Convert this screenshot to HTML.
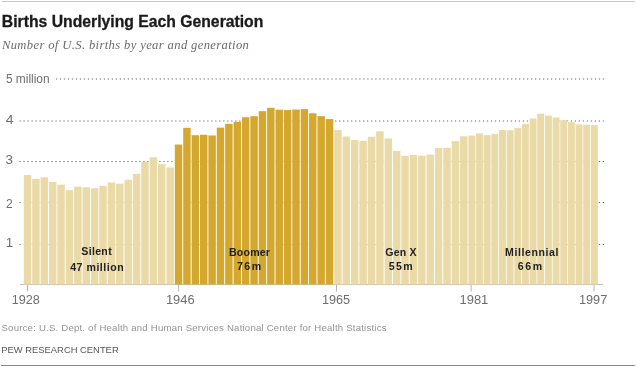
<!DOCTYPE html>
<html><head><meta charset="utf-8">
<style>
html,body{margin:0;padding:0;background:#fff;}
body{width:636px;height:367px;overflow:hidden;position:relative;}
svg{position:absolute;left:0;top:0;will-change:transform;}
text{font-family:"Liberation Sans",sans-serif;}
.title{font-weight:bold;font-size:15.8px;fill:#1a1a1a;stroke:#1a1a1a;stroke-width:0.3px;}
.sub{font-family:"Liberation Serif",serif;font-style:italic;font-size:12.6px;fill:#6a6a6a;}
.ax{font-size:12px;fill:#6e6e6e;}
.lab{font-size:10.6px;font-weight:bold;fill:#222;}
.src{font-size:9.6px;fill:#939393;}
.pew{font-size:9.7px;fill:#555;}
</style></head><body>
<svg width="636" height="367" viewBox="0 0 636 367">
<line x1="2" y1="1.5" x2="635" y2="1.5" stroke="#c8c8c8" stroke-width="1"/>
<defs><mask id="gm" maskUnits="userSpaceOnUse" x="0" y="0" width="636" height="367"><rect x="0" y="0" width="636" height="367" fill="#fff"/>
<rect x="22.80" y="176.04" width="9.39" height="113.96" fill="#555"/>
<rect x="31.19" y="179.84" width="9.39" height="110.16" fill="#555"/>
<rect x="39.58" y="178.35" width="9.39" height="111.65" fill="#555"/>
<rect x="47.97" y="182.98" width="9.39" height="107.02" fill="#555"/>
<rect x="56.36" y="185.71" width="9.39" height="104.29" fill="#555"/>
<rect x="64.75" y="191.21" width="9.39" height="98.79" fill="#555"/>
<rect x="73.14" y="187.53" width="9.39" height="102.47" fill="#555"/>
<rect x="81.53" y="188.32" width="9.39" height="101.68" fill="#555"/>
<rect x="89.92" y="189.23" width="9.39" height="100.77" fill="#555"/>
<rect x="98.31" y="186.83" width="9.39" height="103.17" fill="#555"/>
<rect x="106.70" y="183.40" width="9.39" height="106.60" fill="#555"/>
<rect x="115.09" y="184.64" width="9.39" height="105.36" fill="#555"/>
<rect x="123.48" y="180.79" width="9.39" height="109.21" fill="#555"/>
<rect x="131.87" y="174.84" width="9.39" height="115.16" fill="#555"/>
<rect x="140.26" y="163.01" width="9.39" height="126.99" fill="#555"/>
<rect x="148.65" y="158.25" width="9.39" height="131.75" fill="#555"/>
<rect x="157.04" y="165.08" width="9.39" height="124.92" fill="#555"/>
<rect x="165.43" y="168.43" width="9.39" height="121.57" fill="#555"/>
<rect x="173.82" y="145.56" width="9.39" height="144.44" fill="#555"/>
<rect x="182.21" y="128.77" width="9.39" height="161.23" fill="#555"/>
<rect x="190.60" y="136.21" width="9.39" height="153.79" fill="#555"/>
<rect x="198.99" y="135.72" width="9.39" height="154.28" fill="#555"/>
<rect x="207.38" y="136.42" width="9.39" height="153.58" fill="#555"/>
<rect x="215.77" y="128.64" width="9.39" height="161.36" fill="#555"/>
<rect x="224.16" y="124.96" width="9.39" height="165.04" fill="#555"/>
<rect x="232.55" y="122.90" width="9.39" height="167.10" fill="#555"/>
<rect x="240.94" y="118.26" width="9.39" height="171.74" fill="#555"/>
<rect x="249.33" y="117.19" width="9.39" height="172.81" fill="#555"/>
<rect x="257.72" y="112.18" width="9.39" height="177.82" fill="#555"/>
<rect x="266.11" y="108.79" width="9.39" height="181.21" fill="#555"/>
<rect x="274.50" y="110.65" width="9.39" height="179.35" fill="#555"/>
<rect x="282.89" y="111.07" width="9.39" height="178.93" fill="#555"/>
<rect x="291.28" y="110.53" width="9.39" height="179.47" fill="#555"/>
<rect x="299.67" y="110.12" width="9.39" height="179.88" fill="#555"/>
<rect x="308.06" y="114.29" width="9.39" height="175.71" fill="#555"/>
<rect x="316.45" y="117.15" width="9.39" height="172.85" fill="#555"/>
<rect x="324.84" y="120.08" width="9.39" height="169.92" fill="#555"/>
<rect x="333.23" y="131.13" width="9.39" height="158.87" fill="#555"/>
<rect x="341.62" y="137.49" width="9.39" height="152.51" fill="#555"/>
<rect x="350.01" y="141.01" width="9.39" height="148.99" fill="#555"/>
<rect x="358.40" y="141.79" width="9.39" height="148.21" fill="#555"/>
<rect x="366.79" y="137.74" width="9.39" height="152.26" fill="#555"/>
<rect x="375.18" y="132.32" width="9.39" height="157.68" fill="#555"/>
<rect x="383.57" y="139.56" width="9.39" height="150.44" fill="#555"/>
<rect x="391.96" y="151.89" width="9.39" height="138.11" fill="#555"/>
<rect x="400.35" y="156.89" width="9.39" height="133.11" fill="#555"/>
<rect x="408.74" y="155.94" width="9.39" height="134.06" fill="#555"/>
<rect x="417.13" y="156.60" width="9.39" height="133.40" fill="#555"/>
<rect x="425.52" y="155.61" width="9.39" height="134.39" fill="#555"/>
<rect x="433.91" y="149.03" width="9.39" height="140.97" fill="#555"/>
<rect x="442.30" y="148.78" width="9.39" height="141.22" fill="#555"/>
<rect x="450.69" y="142.13" width="9.39" height="147.87" fill="#555"/>
<rect x="459.08" y="137.25" width="9.39" height="152.75" fill="#555"/>
<rect x="467.40" y="136.54" width="8.66" height="153.46" fill="#555"/>
<rect x="475.06" y="134.39" width="8.66" height="155.61" fill="#555"/>
<rect x="482.71" y="136.13" width="8.66" height="153.87" fill="#555"/>
<rect x="490.37" y="134.89" width="8.66" height="155.11" fill="#555"/>
<rect x="498.02" y="131.08" width="8.66" height="158.92" fill="#555"/>
<rect x="505.68" y="131.25" width="8.66" height="158.75" fill="#555"/>
<rect x="513.34" y="129.10" width="8.66" height="160.90" fill="#555"/>
<rect x="520.99" y="124.92" width="8.66" height="165.08" fill="#555"/>
<rect x="528.65" y="119.50" width="8.66" height="170.50" fill="#555"/>
<rect x="536.30" y="114.67" width="8.66" height="175.33" fill="#555"/>
<rect x="543.96" y="116.61" width="8.66" height="173.39" fill="#555"/>
<rect x="551.62" y="118.51" width="8.66" height="171.49" fill="#555"/>
<rect x="559.27" y="121.20" width="8.66" height="168.80" fill="#555"/>
<rect x="566.93" y="123.14" width="8.66" height="166.86" fill="#555"/>
<rect x="574.58" y="125.34" width="8.66" height="164.66" fill="#555"/>
<rect x="582.24" y="125.71" width="8.66" height="164.29" fill="#555"/>
<rect x="589.90" y="126.12" width="8.66" height="163.88" fill="#555"/></mask></defs>
<g mask="url(#gm)">
<line x1="55.9" y1="79.0" x2="604.2" y2="79.0" stroke="#666" stroke-width="1.2" stroke-dasharray="1.2 2.7927"/>
<line x1="19.5" y1="121.0" x2="604.2" y2="121.0" stroke="#666" stroke-width="1.2" stroke-dasharray="1.2 2.7950"/>
<line x1="19.5" y1="161.5" x2="604.2" y2="161.5" stroke="#666" stroke-width="1.2" stroke-dasharray="1.2 2.7950"/>
<line x1="19.5" y1="202.5" x2="604.2" y2="202.5" stroke="#666" stroke-width="1.2" stroke-dasharray="1.2 2.7950"/>
<line x1="19.5" y1="244.5" x2="604.2" y2="244.5" stroke="#666" stroke-width="1.2" stroke-dasharray="1.2 2.7950"/>
</g>
<line x1="20" y1="284.5" x2="603" y2="284.5" stroke="#c0c0c0" stroke-width="1"/>
<rect x="23.80" y="175.04" width="7.45" height="109.46" fill="#eadaa8"/>
<rect x="32.19" y="178.84" width="7.45" height="105.66" fill="#eadaa8"/>
<rect x="40.58" y="177.35" width="7.45" height="107.15" fill="#eadaa8"/>
<rect x="48.97" y="181.98" width="7.45" height="102.52" fill="#eadaa8"/>
<rect x="57.36" y="184.71" width="7.45" height="99.79" fill="#eadaa8"/>
<rect x="65.75" y="190.21" width="7.45" height="94.29" fill="#eadaa8"/>
<rect x="74.14" y="186.53" width="7.45" height="97.97" fill="#eadaa8"/>
<rect x="82.53" y="187.32" width="7.45" height="97.18" fill="#eadaa8"/>
<rect x="90.92" y="188.23" width="7.45" height="96.27" fill="#eadaa8"/>
<rect x="99.31" y="185.83" width="7.45" height="98.67" fill="#eadaa8"/>
<rect x="107.70" y="182.40" width="7.45" height="102.10" fill="#eadaa8"/>
<rect x="116.09" y="183.64" width="7.45" height="100.86" fill="#eadaa8"/>
<rect x="124.48" y="179.79" width="7.45" height="104.71" fill="#eadaa8"/>
<rect x="132.87" y="173.84" width="7.45" height="110.66" fill="#eadaa8"/>
<rect x="141.26" y="162.01" width="7.45" height="122.49" fill="#eadaa8"/>
<rect x="149.65" y="157.25" width="7.45" height="127.25" fill="#eadaa8"/>
<rect x="158.04" y="164.08" width="7.45" height="120.42" fill="#eadaa8"/>
<rect x="166.43" y="167.43" width="7.45" height="117.07" fill="#eadaa8"/>
<rect x="174.82" y="144.56" width="7.45" height="139.94" fill="#d4a72f"/>
<rect x="183.21" y="127.77" width="7.45" height="156.73" fill="#d4a72f"/>
<rect x="191.60" y="135.21" width="7.45" height="149.29" fill="#d4a72f"/>
<rect x="199.99" y="134.72" width="7.45" height="149.78" fill="#d4a72f"/>
<rect x="208.38" y="135.42" width="7.45" height="149.08" fill="#d4a72f"/>
<rect x="216.77" y="127.64" width="7.45" height="156.86" fill="#d4a72f"/>
<rect x="225.16" y="123.96" width="7.45" height="160.54" fill="#d4a72f"/>
<rect x="233.55" y="121.90" width="7.45" height="162.60" fill="#d4a72f"/>
<rect x="241.94" y="117.26" width="7.45" height="167.24" fill="#d4a72f"/>
<rect x="250.33" y="116.19" width="7.45" height="168.31" fill="#d4a72f"/>
<rect x="258.72" y="111.18" width="7.45" height="173.32" fill="#d4a72f"/>
<rect x="267.11" y="107.79" width="7.45" height="176.71" fill="#d4a72f"/>
<rect x="275.50" y="109.65" width="7.45" height="174.85" fill="#d4a72f"/>
<rect x="283.89" y="110.07" width="7.45" height="174.43" fill="#d4a72f"/>
<rect x="292.28" y="109.53" width="7.45" height="174.97" fill="#d4a72f"/>
<rect x="300.67" y="109.12" width="7.45" height="175.38" fill="#d4a72f"/>
<rect x="309.06" y="113.29" width="7.45" height="171.21" fill="#d4a72f"/>
<rect x="317.45" y="116.15" width="7.45" height="168.35" fill="#d4a72f"/>
<rect x="325.84" y="119.08" width="7.45" height="165.42" fill="#d4a72f"/>
<rect x="334.23" y="130.13" width="7.45" height="154.37" fill="#eadaa8"/>
<rect x="342.62" y="136.49" width="7.45" height="148.01" fill="#eadaa8"/>
<rect x="351.01" y="140.01" width="7.45" height="144.49" fill="#eadaa8"/>
<rect x="359.40" y="140.79" width="7.45" height="143.71" fill="#eadaa8"/>
<rect x="367.79" y="136.74" width="7.45" height="147.76" fill="#eadaa8"/>
<rect x="376.18" y="131.32" width="7.45" height="153.18" fill="#eadaa8"/>
<rect x="384.57" y="138.56" width="7.45" height="145.94" fill="#eadaa8"/>
<rect x="392.96" y="150.89" width="7.45" height="133.61" fill="#eadaa8"/>
<rect x="401.35" y="155.89" width="7.45" height="128.61" fill="#eadaa8"/>
<rect x="409.74" y="154.94" width="7.45" height="129.56" fill="#eadaa8"/>
<rect x="418.13" y="155.60" width="7.45" height="128.90" fill="#eadaa8"/>
<rect x="426.52" y="154.61" width="7.45" height="129.89" fill="#eadaa8"/>
<rect x="434.91" y="148.03" width="7.45" height="136.47" fill="#eadaa8"/>
<rect x="443.30" y="147.78" width="7.45" height="136.72" fill="#eadaa8"/>
<rect x="451.69" y="141.13" width="7.45" height="143.37" fill="#eadaa8"/>
<rect x="460.08" y="136.25" width="7.45" height="148.25" fill="#eadaa8"/>
<rect x="468.40" y="135.54" width="6.90" height="148.96" fill="#eadaa8"/>
<rect x="476.06" y="133.39" width="6.90" height="151.11" fill="#eadaa8"/>
<rect x="483.71" y="135.13" width="6.90" height="149.37" fill="#eadaa8"/>
<rect x="491.37" y="133.89" width="6.90" height="150.61" fill="#eadaa8"/>
<rect x="499.02" y="130.08" width="6.90" height="154.42" fill="#eadaa8"/>
<rect x="506.68" y="130.25" width="6.90" height="154.25" fill="#eadaa8"/>
<rect x="514.34" y="128.10" width="6.90" height="156.40" fill="#eadaa8"/>
<rect x="521.99" y="123.92" width="6.90" height="160.58" fill="#eadaa8"/>
<rect x="529.65" y="118.50" width="6.90" height="166.00" fill="#eadaa8"/>
<rect x="537.30" y="113.67" width="6.90" height="170.83" fill="#eadaa8"/>
<rect x="544.96" y="115.61" width="6.90" height="168.89" fill="#eadaa8"/>
<rect x="552.62" y="117.51" width="6.90" height="166.99" fill="#eadaa8"/>
<rect x="560.27" y="120.20" width="6.90" height="164.30" fill="#eadaa8"/>
<rect x="567.93" y="122.14" width="6.90" height="162.36" fill="#eadaa8"/>
<rect x="575.58" y="124.34" width="6.90" height="160.16" fill="#eadaa8"/>
<rect x="583.24" y="124.71" width="6.90" height="159.79" fill="#eadaa8"/>
<rect x="590.90" y="125.12" width="6.90" height="159.38" fill="#eadaa8"/>
<line x1="27.5" y1="285" x2="27.5" y2="291.5" stroke="#b4b4b4" stroke-width="1"/>
<line x1="178.6" y1="285" x2="178.6" y2="291.5" stroke="#b4b4b4" stroke-width="1"/>
<line x1="336.5" y1="285" x2="336.5" y2="291.5" stroke="#b4b4b4" stroke-width="1"/>
<line x1="471.2" y1="285" x2="471.2" y2="291.5" stroke="#b4b4b4" stroke-width="1"/>
<line x1="594.0" y1="285" x2="594.0" y2="291.5" stroke="#b4b4b4" stroke-width="1"/>
<text id="title" x="1.85" y="26.9" class="title" textLength="261.52" lengthAdjust="spacingAndGlyphs">Births Underlying Each Generation</text>
<text id="sub" x="1.90" y="49.2" class="sub" textLength="247.02" lengthAdjust="spacing">Number of U.S. births by year and generation</text>
<text id="y5" x="5.90" y="82.8" class="ax" textLength="43.67" lengthAdjust="spacingAndGlyphs">5 million</text>
<text id="y4" x="5.75" y="123.9" class="ax" textLength="7.84" lengthAdjust="spacingAndGlyphs">4</text>
<text id="y3" x="5.55" y="163.9" class="ax" textLength="7.49" lengthAdjust="spacingAndGlyphs">3</text>
<text id="y2" x="6.10" y="207.9" class="ax" textLength="6.69" lengthAdjust="spacingAndGlyphs">2</text>
<text id="y1" x="5.80" y="247.0" class="ax" textLength="7.44" lengthAdjust="spacingAndGlyphs">1</text>
<text id="x1928" x="11.80" y="303.9" class="ax" textLength="28.05" lengthAdjust="spacingAndGlyphs">1928</text>
<text id="x1946" x="165.95" y="303.9" class="ax" textLength="28.65" lengthAdjust="spacingAndGlyphs">1946</text>
<text id="x1965" x="321.90" y="303.9" class="ax" textLength="28.30" lengthAdjust="spacingAndGlyphs">1965</text>
<text id="x1981" x="459.50" y="303.9" class="ax" textLength="28.80" lengthAdjust="spacingAndGlyphs">1981</text>
<text id="x1997" x="578.95" y="303.9" class="ax" textLength="28.30" lengthAdjust="spacingAndGlyphs">1997</text>
<text id="l1a" x="81.30" y="255.2" class="lab" textLength="30.36" lengthAdjust="spacing">Silent</text>
<text id="l1b" x="70.15" y="270.8" class="lab" textLength="53.57" lengthAdjust="spacing">47 million</text>
<text id="l2a" x="229.00" y="255.7" class="lab" textLength="40.93" lengthAdjust="spacing">Boomer</text>
<text id="l2b" x="236.95" y="269.6" class="lab" textLength="24.13" lengthAdjust="spacing">76m</text>
<text id="l3a" x="385.35" y="255.5" class="lab" textLength="31.27" lengthAdjust="spacing">Gen X</text>
<text id="l3b" x="388.70" y="269.6" class="lab" textLength="23.93" lengthAdjust="spacing">55m</text>
<text id="l4a" x="505.10" y="255.5" class="lab" textLength="53.43" lengthAdjust="spacing">Millennial</text>
<text id="l4b" x="517.70" y="269.6" class="lab" textLength="24.58" lengthAdjust="spacing">66m</text>
<text id="src" x="1.50" y="331.0" class="src" textLength="384.95" lengthAdjust="spacing">Source: U.S. Dept. of Health and Human Services National Center for Health Statistics</text>
<text id="pew" x="1.25" y="352.5" class="pew" textLength="117.42" lengthAdjust="spacingAndGlyphs">PEW RESEARCH CENTER</text>
<line x1="1" y1="365.5" x2="635" y2="365.5" stroke="#888" stroke-width="1"/>
</svg>
</body></html>
